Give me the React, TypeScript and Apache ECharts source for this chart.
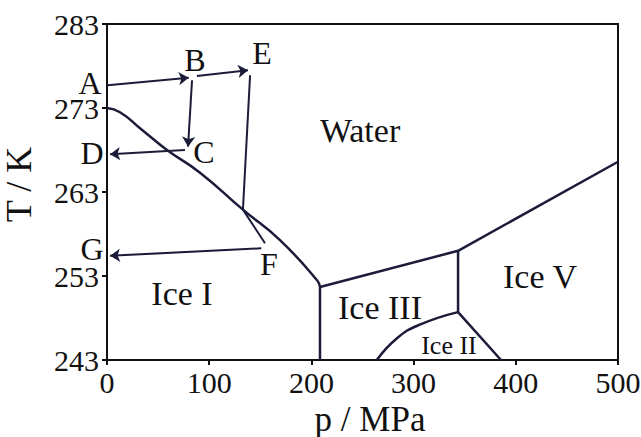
import React, { useEffect, useRef } from "react";
import * as echarts from "echarts";

// Axis ticks
const pressureTicks = [0, 100, 200, 300, 400, 500];
const temperatureTicks = [243, 253, 263, 273, 283];

// Phase boundaries [p (MPa), T (K)]
const iceIWater: [number, number][] = [
  [0, 273.0], [12.7, 272.5], [32.3, 270.6], [58.7, 268.0], [91.0, 265.3],
  [133, 260.9], [169, 257.3], [205.5, 252.5], [208.4, 251.7],
];
const iceIIIWater: [number, number][] = [[208.4, 251.7], [343.5, 256.0]];
const iceVWater: [number, number][] = [[343.5, 256.0], [500, 266.6]];
const iceIIceIII: [number, number][] = [[208.4, 251.7], [208.4, 243]];
const iceIIIIceV: [number, number][] = [[343.5, 256.0], [343.5, 248.7]];
const iceIIIceIII: [number, number][] = [[343.5, 248.7], [306, 247.2], [283.8, 245.6], [264, 243]];
const iceIIIceV: [number, number][] = [[343.5, 248.7], [385.5, 243]];

// Process arrows
const arrowAB: [number, number][] = [[0.5, 275.7], [80, 276.6]];
const arrowBE: [number, number][] = [[88, 276.8], [138, 277.5]];
const arrowBC: [number, number][] = [[83.2, 276.3], [79.3, 268.4]];
const arrowCD: [number, number][] = [[76.3, 268.0], [3, 267.5]];
const arrowEF: [number, number][] = [[140, 276.9], [133, 260.9], [154.6, 256.9]];
const arrowFG: [number, number][] = [[151, 256.3], [3, 255.4]];

// Point letters
const pointNames = ["A", "B", "E", "C", "D", "G", "F"];
const pointPos: [number, number][] = [
  [-16.6, 276.0], [86.1, 278.7], [151.7, 279.5], [94.9, 267.8],
  [-14.7, 267.6], [-14.7, 256.2], [158.5, 254.4],
];

// Region labels
const regionNames = ["Water", "Ice I", "Ice III", "Ice V", "Ice II"];
const regionPos: [number, number][] = [
  [247.6, 270.3], [73.4, 250.9], [267.1, 249.2], [423.7, 253.0], [334.6, 244.7],
];
const regionSizes = [34, 34, 34, 34, 26];

const FONT = "Liberation Serif";
const INK = "#1c1c3a";

export default function App() {
  const ref = useRef<HTMLDivElement>(null);
  useEffect(() => {
    if (!ref.current) return;
    const chart = echarts.init(ref.current, undefined, { renderer: "svg" });
    const boundary = (data: [number, number][], smooth = false) => ({
      type: "line",
      data,
      smooth,
      symbol: "none",
      lineStyle: { color: INK, width: 2.5 },
      silent: true,
    });
    const arrow = (coords: [number, number][]) => ({
      type: "lines",
      coordinateSystem: "cartesian2d",
      polyline: coords.length > 2,
      symbol: ["none", "arrow"],
      symbolSize: 10,
      lineStyle: { color: INK, width: 2, opacity: 1 },
      data: [{ coords }],
      silent: true,
    });
    chart.setOption({
      animation: false,
      backgroundColor: "#fff",
      textStyle: { fontFamily: FONT },
      grid: {
        left: 107, right: 23, top: 24, bottom: 77,
        outerBoundsMode: "none", containLabel: false,
        show: true, borderColor: "#111", borderWidth: 2,
      },
      xAxis: {
        type: "value", min: 0, max: 500, interval: 100,
        name: "p / MPa", nameLocation: "middle", nameGap: 30,
        nameTextStyle: { fontFamily: FONT, fontSize: 35, lineHeight: 30, color: "#111", padding: [0, 0, 0, 15] },
        axisLine: { show: true, onZero: false, lineStyle: { color: "#111", width: 2 } },
        axisTick: { show: true, inside: false, length: 5, lineStyle: { color: "#111", width: 2 } },
        axisLabel: { fontFamily: FONT, fontSize: 30, lineHeight: 24, color: "#111", margin: 10 },
        splitLine: { show: false },
      },
      yAxis: {
        type: "value", min: 243, max: 283, interval: 10,
        name: "T / K", nameLocation: "middle", nameGap: 70, nameRotate: 90,
        nameTextStyle: { fontFamily: FONT, fontSize: 36, color: "#111", padding: [0, 0, 0, 15] },
        axisLine: { show: true, onZero: false, lineStyle: { color: "#111", width: 2 } },
        axisTick: { show: true, inside: false, length: 5, lineStyle: { color: "#111", width: 2 } },
        axisLabel: { fontFamily: FONT, fontSize: 30, lineHeight: 22, color: "#111", margin: 8 },
        splitLine: { show: false },
      },
      series: [
        boundary(iceIWater, true),
        boundary(iceIIIWater),
        boundary(iceVWater),
        boundary(iceIIceIII),
        boundary(iceIIIIceV),
        boundary(iceIIIceIII, true),
        boundary(iceIIIceV),
        arrow(arrowAB),
        arrow(arrowBE),
        arrow(arrowBC),
        arrow(arrowCD),
        arrow(arrowEF),
        arrow(arrowFG),
      ],
    });
    const texts: any[] = [];
    pointNames.forEach((n, i) => {
      const [x, y] = chart.convertToPixel({ gridIndex: 0 }, pointPos[i]) as number[];
      texts.push({
        type: "text", x, y, z: 10,
        style: { text: n, fontFamily: FONT, fontSize: 32, lineHeight: 22, fill: "#111", align: "center", verticalAlign: "middle" },
      });
    });
    regionNames.forEach((n, i) => {
      const [x, y] = chart.convertToPixel({ gridIndex: 0 }, regionPos[i]) as number[];
      texts.push({
        type: "text", x, y, z: 10,
        style: { text: n, fontFamily: FONT, fontSize: regionSizes[i], fill: "#111", align: "center", verticalAlign: "middle" },
      });
    });
    chart.setOption({ graphic: texts });
    return () => chart.dispose();
  }, []);
  return (
    <div
      ref={ref}
      style={{ position: "fixed", left: 0, top: 0, width: 641, height: 437, background: "#fff" }}
    />
  );
}
